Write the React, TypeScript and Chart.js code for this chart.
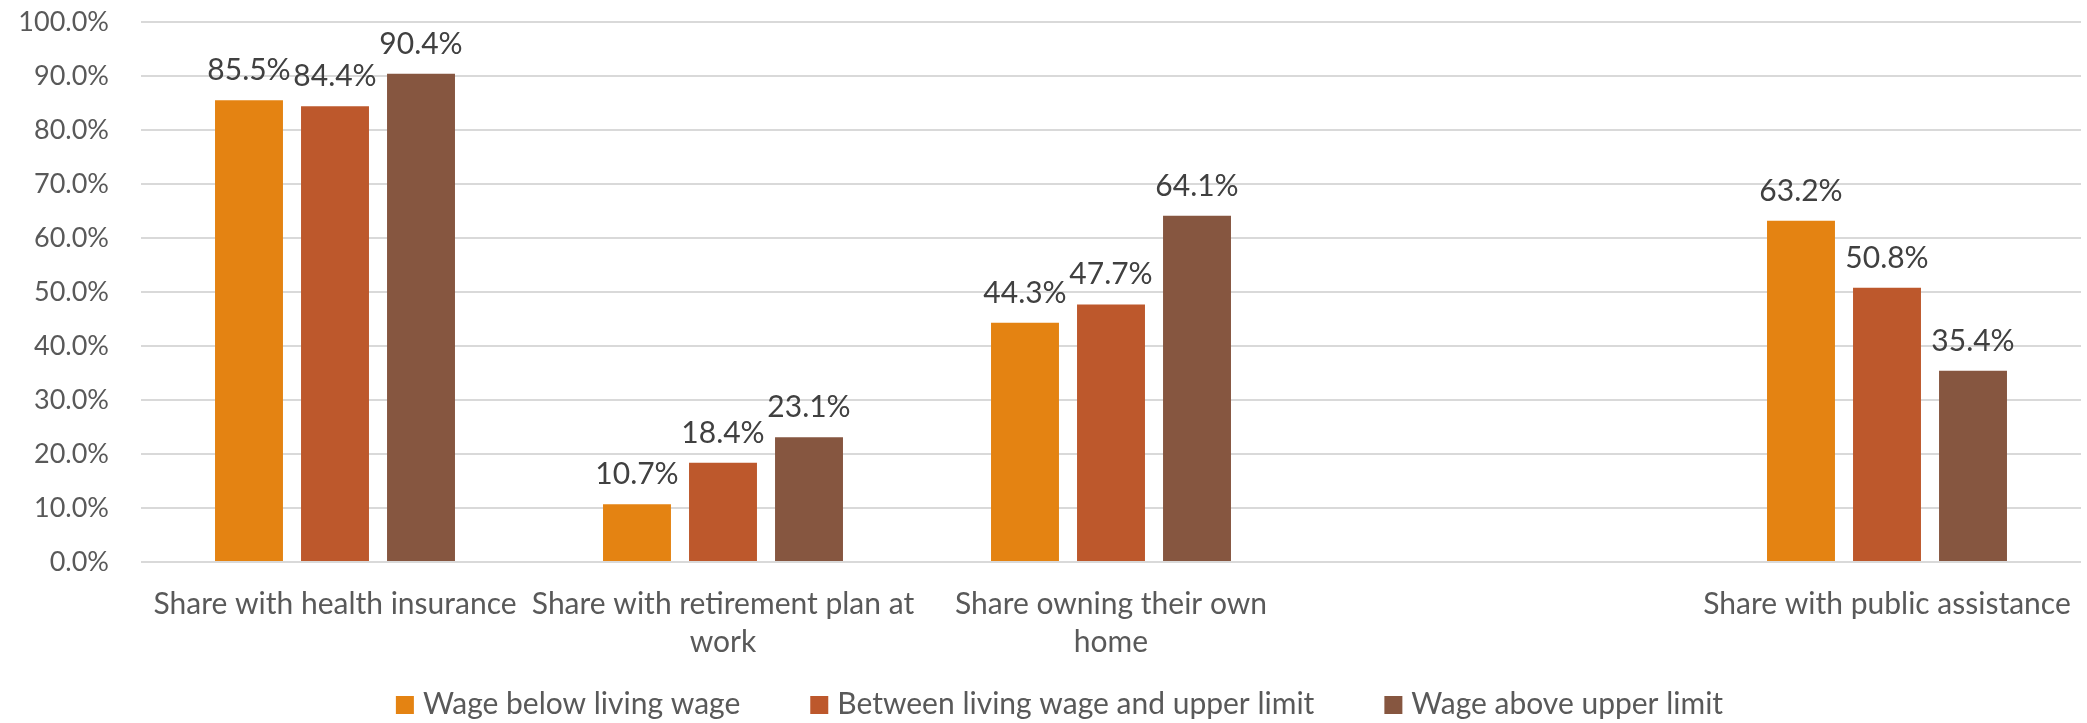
import React, { useEffect, useRef } from "react";
import { Chart, registerables } from "chart.js";

Chart.register(...registerables);

const categories: (string | string[])[] = [
  ["Share with health insurance"],
  ["Share with retirement plan at", "work"],
  ["Share owning their own", "home"],
  "",
  ["Share with public assistance"],
];

const seriesNames = [
  "Wage below living wage",
  "Between living wage and upper limit",
  "Wage above upper limit",
];

const belowLivingWage: (number | null)[] = [85.5, 10.7, 44.3, null, 63.2];
const betweenLivingAndUpper: (number | null)[] = [84.4, 18.4, 47.7, null, 50.8];
const aboveUpperLimit: (number | null)[] = [90.4, 23.1, 64.1, null, 35.4];

const seriesColors = ["#E48312", "#BD582C", "#865640"];

const yTicks = [0, 10, 20, 30, 40, 50, 60, 70, 80, 90, 100];

const FONT = "Lato";
const TEXT_SIZE = 30;
const YTICK_SIZE = 27;

const dataLabelPlugin = {
  id: "dataLabels",
  afterDatasetsDraw(chart: any) {
    const ctx = chart.ctx;
    ctx.save();
    ctx.font = `${TEXT_SIZE}px ${FONT}`;
    ctx.fillStyle = "#404040";
    ctx.textAlign = "center";
    ctx.textBaseline = "alphabetic";
    chart.data.datasets.forEach((ds: any, i: number) => {
      const meta = chart.getDatasetMeta(i);
      meta.data.forEach((bar: any, j: number) => {
        const v = ds.data[j];
        if (v === null || v === undefined) return;
        ctx.fillText(v.toFixed(1) + "%", bar.x, bar.y - 20);
      });
    });
    ctx.restore();
  },
};

const customLegendPlugin = {
  id: "customLegend",
  afterDraw(chart: any) {
    const ctx = chart.ctx;
    ctx.save();
    ctx.font = `${TEXT_SIZE}px ${FONT}`;
    const box = 18;
    const gap = 9;
    const itemPad = 70;
    const items = chart.data.datasets.map((ds: any) => ({
      text: ds.label,
      color: ds.backgroundColor,
      w: ctx.measureText(ds.label).width,
    }));
    const total =
      items.reduce((s: number, it: any) => s + box + gap + it.w, 0) +
      itemPad * (items.length - 1);
    let x = chart.width / 2 + 16 - total / 2;
    const cy = chart.chartArea.bottom + 143;
    ctx.textBaseline = "middle";
    ctx.textAlign = "left";
    items.forEach((it: any) => {
      ctx.fillStyle = it.color;
      ctx.fillRect(x, cy - box / 2, box, box);
      ctx.fillStyle = "#595959";
      ctx.fillText(it.text, x + box + gap, cy - 1);
      x += box + gap + it.w + itemPad;
    });
    ctx.restore();
  },
};

export default function App() {
  const ref = useRef<HTMLCanvasElement | null>(null);

  useEffect(() => {
    document.body.style.margin = "0";
    const canvas = ref.current;
    if (!canvas) return;
    const chart = new Chart(canvas, {
      type: "bar",
      data: {
        labels: categories,
        datasets: [belowLivingWage, betweenLivingAndUpper, aboveUpperLimit].map(
          (d, i) => ({
            label: seriesNames[i],
            data: d,
            backgroundColor: seriesColors[i],
            borderWidth: 0,
            categoryPercentage: 0.665,
            barPercentage: 0.79,
          })
        ),
      },
      options: {
        responsive: false,
        animation: false,
        devicePixelRatio: 1,
        layout: { padding: { top: 22, right: 6, left: 0, bottom: 61 } },
        plugins: {
          tooltip: { enabled: false },
          title: { display: false },
          legend: { display: false },
        },
        scales: {
          x: {
            grid: { display: false, drawTicks: false },
            border: { display: false },
            ticks: {
              color: "#595959",
              font: { family: FONT, size: TEXT_SIZE, lineHeight: 38 / TEXT_SIZE },
              padding: 23,
              autoSkip: false,
              maxRotation: 0,
              minRotation: 0,
            },
            afterFit: (scale: any) => {
              scale.height = 100;
              scale.paddingLeft = 0;
              scale.paddingRight = 0;
            },
          },
          y: {
            min: 0,
            max: 100,
            afterBuildTicks: (scale: any) => {
              scale.ticks = yTicks.map((v) => ({ value: v }));
            },
            grid: { color: "#D9D9D9", lineWidth: 2, drawTicks: false },
            border: { display: false },
            ticks: {
              color: "#595959",
              font: { family: FONT, size: YTICK_SIZE },
              padding: 32,
              callback: (v: any) => Number(v).toFixed(1) + "%",
            },
            afterFit: (scale: any) => {
              scale.width = 141;
              scale.paddingTop = 0;
              scale.paddingBottom = 0;
            },
          },
        },
      },
      plugins: [dataLabelPlugin, customLegendPlugin],
    });
    return () => chart.destroy();
  }, []);

  return (
    <div style={{ width: 2087, height: 723, background: "#fff" }}>
      <canvas ref={ref} width={2087} height={723} />
    </div>
  );
}
